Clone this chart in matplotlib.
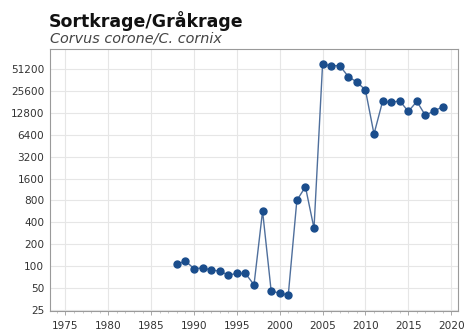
import matplotlib
matplotlib.use("Agg")
import matplotlib.pyplot as plt
from matplotlib.ticker import FixedLocator, FixedFormatter, MultipleLocator, NullLocator

plt.rcParams['font.family'] = ['DejaVu Sans']

years = [1988, 1989, 1990, 1991, 1992, 1993, 1994, 1995, 1996, 1997, 1998, 1999,
         2000, 2001, 2002, 2003, 2004, 2005, 2006, 2007, 2008, 2009, 2010, 2011,
         2012, 2013, 2014, 2015, 2016, 2017, 2018, 2019]
values = [106, 117, 92, 94, 88, 85, 75, 79, 79, 55, 570, 45.5,
          42, 40, 800, 1230, 330, 59600, 57200, 57200, 40500, 34000, 26500, 6550,
          18400, 17800, 18800, 13400, 18400, 11800, 13700, 15400]
y_ticks = [25, 50, 100, 200, 400, 800, 1600, 3200, 6400, 12800, 25600, 51200]
x_ticks = [1975, 1980, 1985, 1990, 1995, 2000, 2005, 2010, 2015, 2020]

title = "Sortkrage/Gråkrage"
subtitle = "Corvus corone/C. cornix"

fig = plt.figure(figsize=(4.69, 3.33), dpi=100)
ax = fig.add_axes([50/469, 1 - 311/333, (458-50)/469, (311-49)/333])

ax.plot(years, values, color='#4f6f9c', lw=1.0, zorder=2)
ax.plot(years, values, 'o', color='#1a4d8c', ms=5, zorder=3)

ax.set_yscale('log', base=2)
ax.set_ylim(24, 97000)
ax.set_xlim(1973.2, 2020.8)
ax.yaxis.set_major_locator(FixedLocator(y_ticks))
ax.yaxis.set_major_formatter(FixedFormatter([str(v) for v in y_ticks]))
ax.yaxis.set_minor_locator(NullLocator())
ax.xaxis.set_major_locator(FixedLocator(x_ticks))
ax.xaxis.set_minor_locator(MultipleLocator(1))

ax.grid(True, which='major', color='#e6e6e6', lw=0.8, zorder=0)
for s in ax.spines.values():
    s.set_color('#9a9a9a')
    s.set_linewidth(0.8)
ax.tick_params(axis='both', which='major', labelsize=7.6, colors='#9a9a9a',
               labelcolor='#333333', length=3, width=0.6)
ax.tick_params(axis='y', which='major', length=0, pad=4)
ax.tick_params(axis='x', which='major', pad=4)
ax.tick_params(axis='x', which='minor', length=1.5, width=0.5, colors='#b0b0b0')

fig.text(49/469, 1 - 27/333, title, fontsize=12.5, fontweight='bold', color='#111111',
         ha='left', va='baseline')
fig.text(50/469, 1 - 42/333, subtitle, fontsize=10.4, fontstyle='italic', color='#444444',
         ha='left', va='baseline')

fig.savefig('out.png', dpi=100)
